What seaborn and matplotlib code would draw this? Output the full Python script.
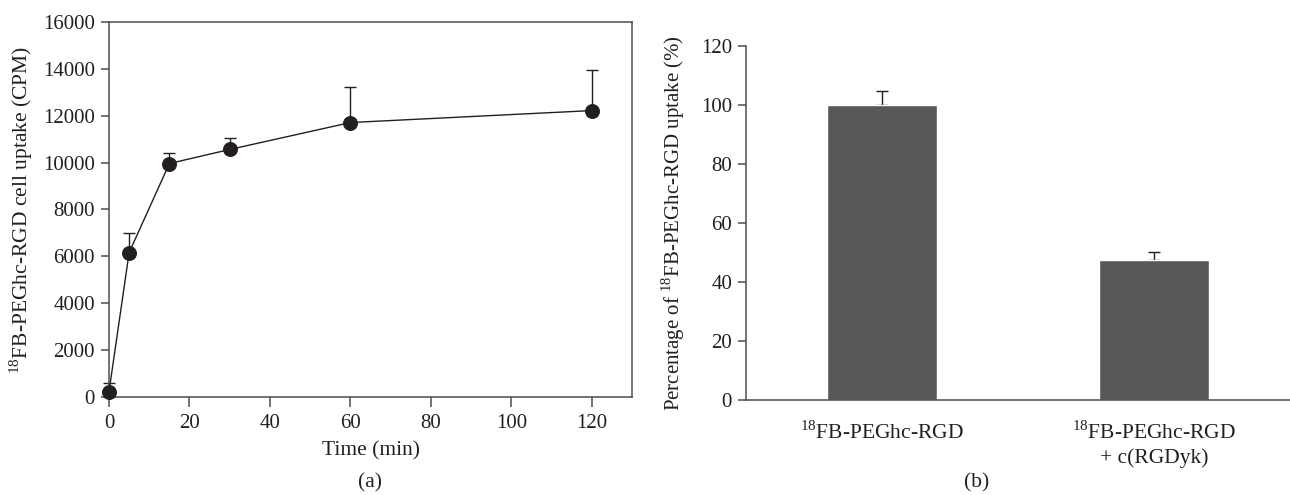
import matplotlib
matplotlib.use('Agg')

import numpy as np
import pandas as pd
import matplotlib.pyplot as plt
import seaborn as sns

# panel (a): uptake over time
time_min = [0, 5, 15, 30, 60, 120]
uptake_cpm = [230, 6160, 9960, 10560, 11710, 12220]
uptake_err = [350, 850, 470, 500, 1530, 1710]

# panel (b): blocking
groups = ['$^{\\mathrm{18}}$FB-PEGhc-RGD',
          '$^{\\mathrm{18}}$FB-PEGhc-RGD\n+ c(RGDyk)']
percent = [100.0, 47.4]
percent_err = [4.8, 2.8]

sns.set_theme(style='white')
plt.rcParams['font.family'] = ['Liberation Serif', 'DejaVu Serif']
plt.rcParams['mathtext.fontset'] = 'custom'
plt.rcParams['mathtext.rm'] = 'Liberation Serif'
plt.rcParams['font.size'] = 15

txt = '#231f20'
spine = '#4d4d4d'
tick_fs = 15
label_fs = 15.5

fig = plt.figure(figsize=(12.9, 4.95), dpi=100)
ax1 = fig.add_axes([0.0845, 0.198, 0.4055, 0.7576])
ax2 = fig.add_axes([0.5783, 0.192, 0.4217, 0.715])

# ---- (a)
df_a = pd.DataFrame({'time': time_min, 'uptake': uptake_cpm})
ax1.errorbar(time_min, uptake_cpm, yerr=[np.zeros(len(uptake_err)), uptake_err],
             fmt='none', ecolor='#231f20', elinewidth=1.0, capsize=4, capthick=1.0,
             clip_on=False, zorder=2)
sns.lineplot(data=df_a, x='time', y='uptake', ax=ax1, color='#231f20', lw=1.0,
             marker='o', markersize=10, markeredgecolor='#231f20', zorder=3,
             clip_on=False)
ax1.set_xlim(0, 130)
ax1.set_ylim(0, 16000)
ax1.set_xticks(np.arange(0, 121, 20))
ax1.set_yticks(np.arange(0, 16001, 2000))
ax1.set_xlabel('Time (min)', color=txt, fontsize=label_fs, labelpad=6)
ax1.set_ylabel('$^{\\mathrm{18}}$FB-PEGhc-RGD cell uptake (CPM)', color=txt,
               fontsize=label_fs, labelpad=6)
for s in ax1.spines.values():
    s.set_color(spine)
    s.set_linewidth(1.1)

# ---- (b)
df_b = pd.DataFrame({'group': groups, 'percent': percent})
sns.barplot(data=df_b, x='group', y='percent', ax=ax2, color='#58585a',
            saturation=1, width=0.405, errorbar=None, zorder=2)
ax2.errorbar([0, 1], percent, yerr=[np.zeros(2), percent_err], fmt='none',
             ecolor='#231f20', elinewidth=1.0, capsize=4, capthick=1.0, zorder=1)
ax2.set_xlim(-0.5, 1.487)
ax2.set_ylim(0, 120)
ax2.set_yticks(np.arange(0, 121, 20))
ax2.set_xticks([0, 1])
ax2.set_xticklabels(groups, color=txt, fontsize=label_fs, linespacing=1.3)
ax2.set_xticks([-0.5, 0.5, 1.5], minor=True)
ax2.tick_params(axis='x', which='major', length=0, pad=15)
ax2.tick_params(axis='x', which='minor', direction='out', length=7, width=1.1,
                color=spine)
ax2.set_xlabel('')
ax2.set_ylabel('Percentage of $^{\\mathrm{18}}$FB-PEGhc-RGD uptake (%)', color=txt,
               fontsize=15, labelpad=10)
sns.despine(ax=ax2)
for k in ['left', 'bottom']:
    ax2.spines[k].set_color(spine)
    ax2.spines[k].set_linewidth(1.1)

for ax in (ax1, ax2):
    ax.tick_params(axis='y', direction='out', length=6, width=1.1, color=spine,
                   labelcolor=txt, labelsize=tick_fs, pad=4, left=True)
ax1.tick_params(axis='x', direction='out', length=7, width=1.1, color=spine,
                labelcolor=txt, labelsize=tick_fs, pad=5, bottom=True)

fig.text(0.287, 0.024, '(a)', ha='center', va='center', color=txt, fontsize=label_fs)
fig.text(0.757, 0.024, '(b)', ha='center', va='center', color=txt, fontsize=label_fs)

fig.savefig('out.png', dpi=100)
